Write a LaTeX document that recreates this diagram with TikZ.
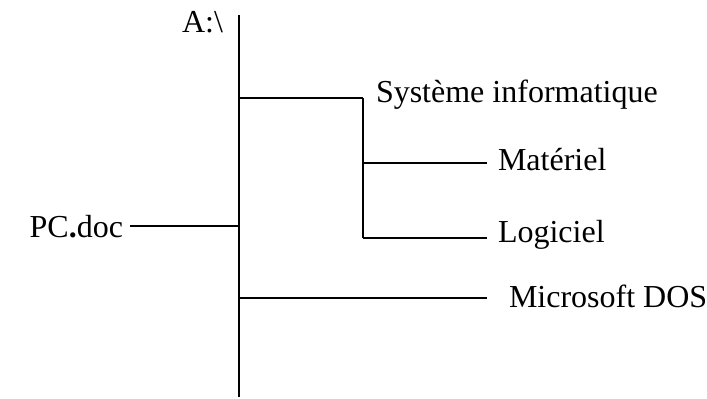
\documentclass[tikz,border=0pt]{standalone}
\usepackage{fontspec}
\setmainfont{Liberation Serif}
\usetikzlibrary{positioning}

\begin{document}
\begin{tikzpicture}[x=1pt,y=-1pt,line width=2pt,
	lbl/.style={inner sep=0pt,font=\fontsize{32}{38}\selectfont}]
	\useasboundingbox (0,0) rectangle (707,399);
	% tronc principal
	\coordinate (top) at (239,15);
	\coordinate (bot) at (239,397);
	\draw (top) -- (bot);
	\node[lbl,anchor=base east] (racine) at (224,32) {A:\textbackslash};
	% PC.doc
	\coordinate (jpc) at (239,226);
	\coordinate (pcend) at (130,226);
	\node[lbl,anchor=base east] (pc) at (124,237) {PC\textbf{.}doc};
	\draw (pcend) -- (jpc);
	% Systeme informatique
	\coordinate (jsys) at (239,98);
	\coordinate (ksys) at (363,98);
	\node[lbl,anchor=base west] (sys) at (375,102) {Système informatique};
	\draw (jsys) -- (ksys);
	\coordinate (klog) at (363,238);
	\draw (ksys) -- (klog);
	% Materiel, Logiciel
	\coordinate (kmat) at (363,163);
	\coordinate (emat) at (487,163);
	\coordinate (elog) at (487,238);
	\node[lbl,anchor=base west] (mat) at (497,170) {Matériel};
	\node[lbl,anchor=base west] (log) at (497,242) {Logiciel};
	\draw (kmat) -- (emat);
	\draw (klog) -- (elog);
	% Microsoft DOS
	\coordinate (jdos) at (239,298);
	\coordinate (edos) at (487,298);
	\node[lbl,anchor=base west] (dos) at (508,307) {Microsoft DOS};
	\draw (jdos) -- (edos);
\end{tikzpicture}
\end{document}
